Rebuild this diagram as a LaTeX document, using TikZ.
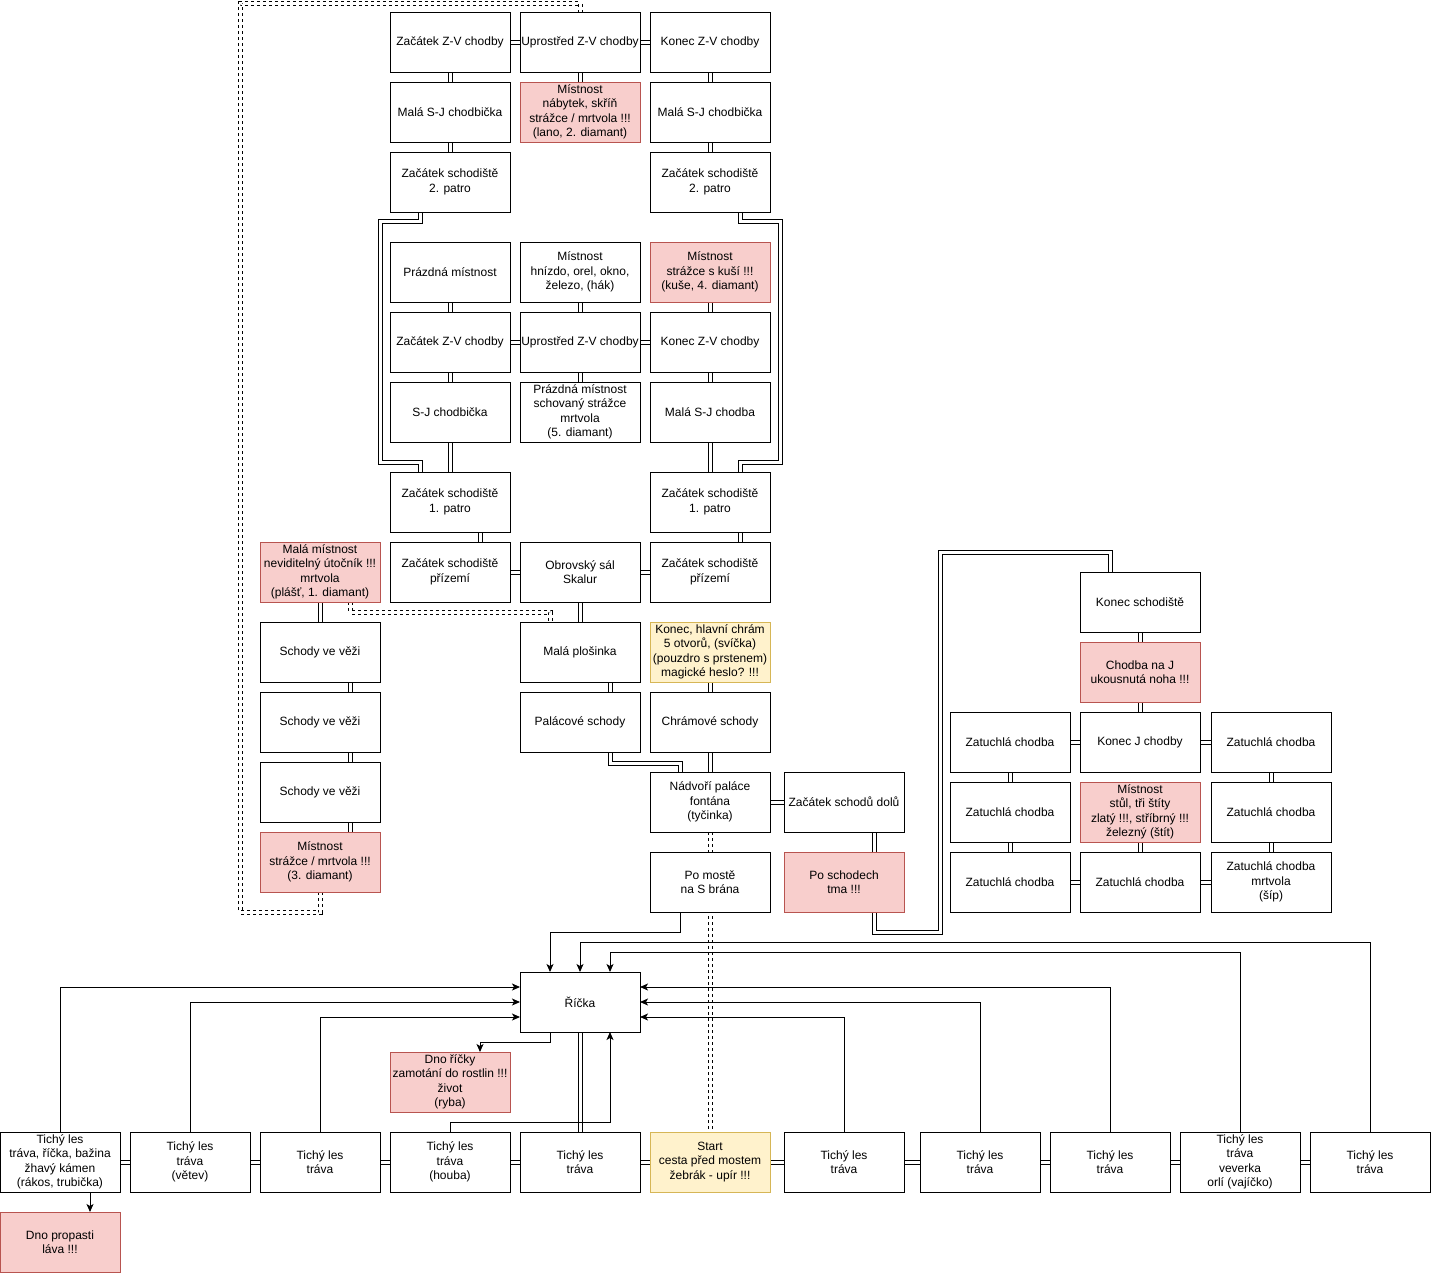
\documentclass[tikz,border=0pt]{standalone}
\usepackage{fontspec}
\setmainfont{Liberation Sans}
\usetikzlibrary{arrows.meta}
\definecolor{rfill}{HTML}{F8CECC}
\definecolor{rdraw}{HTML}{B85450}
\definecolor{yfill}{HTML}{FFF2CC}
\definecolor{ydraw}{HTML}{D6B656}
\pgfdeclarelayer{bg}
\pgfsetlayers{bg,main}
\begin{document}
\begin{tikzpicture}[x=1pt,y=-1pt,
  box/.style={draw, fill=white, line width=1pt, minimum width=120pt, minimum height=60pt,
    inner sep=0pt, outer sep=0pt, align=center, font=\fontsize{12}{14.4}\selectfont},
  redbox/.style={box, fill=rfill, draw=rdraw},
  yelbox/.style={box, fill=yfill, draw=ydraw},
  link/.style={draw, line width=1pt, double=white, double distance=3pt},
  dlink/.style={link, dash pattern=on 3pt off 3pt},
  arr/.style={draw, line width=1pt, -{Stealth[length=8pt,width=7pt,inset=2pt]}}
]
\useasboundingbox (0,0) rectangle (1432,1274);

% ---- upper building ----
\node[box] (a1) at (450,42) {Začátek Z-V chodby};
\node[box] (b1) at (580,42) {Uprostřed Z-V chodby};
\node[box] (c1) at (710,42) {Konec Z-V chodby};
\node[box] (a2) at (450,112) {Malá S-J chodbička};
\node[redbox] (b2) at (580,112) {Místnost\\nábytek, skříň\\strážce / mrtvola !!!\\(lano, 2. diamant)};
\node[box] (c2) at (710,112) {Malá S-J chodbička};
\node[box] (a3) at (450,182) {Začátek schodiště\\2. patro};
\node[box] (c3) at (710,182) {Začátek schodiště\\2. patro};
\node[box] (a4) at (450,272) {Prázdná místnost};
\node[box] (b4) at (580,272) {Místnost\\hnízdo, orel, okno,\\železo, (hák)};
\node[redbox] (c4) at (710,272) {Místnost\\strážce s kuší !!!\\(kuše, 4. diamant)};
\node[box] (a5) at (450,342) {Začátek Z-V chodby};
\node[box] (b5) at (580,342) {Uprostřed Z-V chodby};
\node[box] (c5) at (710,342) {Konec Z-V chodby};
\node[box] (a6) at (450,412) {S-J chodbička};
\node[box] (b6) at (580,412) {Prázdná místnost\\schovaný strážce\\mrtvola\\(5. diamant)};
\node[box] (c6) at (710,412) {Malá S-J chodba};
\node[box] (a7) at (450,502) {Začátek schodiště\\1. patro};
\node[box] (c7) at (710,502) {Začátek schodiště\\1. patro};
\node[redbox] (l8) at (320,572) {Malá místnost\\neviditelný útočník !!!\\mrtvola\\(plášť, 1. diamant)};
\node[box] (a8) at (450,572) {Začátek schodiště\\přízemí};
\node[box] (b8) at (580,572) {Obrovský sál\\Skalur};
\node[box] (c8) at (710,572) {Začátek schodiště\\přízemí};
\node[box] (l9) at (320,652) {Schody ve věži};
\node[box] (b9) at (580,652) {Malá plošinka};
\node[yelbox] (c9) at (710,652) {Konec, hlavní chrám\\5 otvorů, (svíčka)\\(pouzdro s prstenem)\\magické heslo? !!!};
\node[box] (l10) at (320,722) {Schody ve věži};
\node[box] (b10) at (580,722) {Palácové schody};
\node[box] (c10) at (710,722) {Chrámové schody};
\node[box] (l11) at (320,792) {Schody ve věži};
\node[redbox] (l12) at (320,862) {Místnost\\strážce / mrtvola !!!\\(3. diamant)};
\node[box] (nad) at (710,802) {Nádvoří paláce\\fontána\\(tyčinka)};
\node[box] (zsd) at (844,802) {Začátek schodů dolů};
\node[box] (most) at (710,882) {Po mostě\\na S brána};
\node[redbox] (tma) at (844,882) {Po schodech\\tma !!!};

% ---- right group ----
\node[box] (ks) at (1140,602) {Konec schodiště};
\node[redbox] (cj) at (1140,672) {Chodba na J\\ukousnutá noha !!!};
\node[box] (z11) at (1010,742) {Zatuchlá chodba};
\node[box] (kj) at (1140,742) {Konec J chodby};
\node[box] (z13) at (1271,742) {Zatuchlá chodba};
\node[box] (z21) at (1010,812) {Zatuchlá chodba};
\node[redbox] (ms) at (1140,812) {Místnost\\stůl, tři štíty\\zlatý !!!, stříbrný !!!\\železný (štít)};
\node[box] (z23) at (1271,812) {Zatuchlá chodba};
\node[box] (z31) at (1010,882) {Zatuchlá chodba};
\node[box] (z32) at (1140,882) {Zatuchlá chodba};
\node[box] (z33) at (1271,882) {Zatuchlá chodba\\mrtvola\\(šíp)};

% ---- forest ----
\node[box] (ricka) at (580,1002) {Říčka};
\node[redbox] (dno) at (450,1082) {Dno říčky\\zamotání do rostlin !!!\\život\\(ryba)};
\node[box] (t1) at (60,1162) {Tichý les\\tráva, říčka, bažina\\žhavý kámen\\(rákos, trubička)};
\node[box] (t2) at (190,1162) {Tichý les\\tráva\\(větev)};
\node[box] (t3) at (320,1162) {Tichý les\\tráva};
\node[box] (t4) at (450,1162) {Tichý les\\tráva\\(houba)};
\node[box] (t5) at (580,1162) {Tichý les\\tráva};
\node[yelbox] (start) at (710,1162) {Start\\cesta před mostem\\žebrák - upír !!!};
\node[box] (t6) at (844,1162) {Tichý les\\tráva};
\node[box] (t7) at (980,1162) {Tichý les\\tráva};
\node[box] (t8) at (1110,1162) {Tichý les\\tráva};
\node[box] (t9) at (1240,1162) {Tichý les\\tráva\\veverka\\orlí (vajíčko)};
\node[box] (t10) at (1370,1162) {Tichý les\\tráva};
\node[redbox] (lava) at (60,1242) {Dno propasti\\láva !!!};

\begin{pgfonlayer}{bg}
% upper building links
\path[link] (a1) -- (b1);
\path[link] (b1) -- (c1);
\path[link] (a1) -- (a2);
\path[link] (b1) -- (b2);
\path[link] (c1) -- (c2);
\path[link] (a2) -- (a3);
\path[link] (c2) -- (c3);
\path[link] ([xshift=-30pt]a3.south) -- (420,221) -- (380,221) -- (380,462) -- (420,462) -- ([xshift=-30pt]a7.north);
\path[link] ([xshift=30pt]c3.south) -- (740,221) -- (780,221) -- (780,462) -- (740,462) -- ([xshift=30pt]c7.north);
\path[link] (a4) -- (a5);
\path[link] (b4) -- (b5);
\path[link] (c4) -- (c5);
\path[link] (a5) -- (b5);
\path[link] (b5) -- (c5);
\path[link] (a5) -- (a6);
\path[link] (b5) -- (b6);
\path[link] (c5) -- (c6);
\path[link] (a6) -- (a7);
\path[link] (c6) -- (c7);
\path[link] ([xshift=30pt]a7.south) -- ([xshift=30pt]a8.north);
\path[link] ([xshift=30pt]c7.south) -- ([xshift=30pt]c8.north);
\path[link] (a8) -- (b8);
\path[link] (b8) -- (c8);
\path[link] (b8) -- (b9);
\path[link] ([xshift=30pt]b9.south) -- ([xshift=30pt]b10.north);
\path[link] (c9) -- (c10);
\path[link] ([xshift=30pt]b10.south) -- (610,763) -- (680,763) -- ([xshift=-30pt]nad.north);
\path[link] (c10) -- (nad);
\path[link] (nad) -- (zsd);
\path[link] ([xshift=30pt]zsd.south) -- ([xshift=30pt]tma.north);
\path[link] ([xshift=30pt]tma.south) -- (874,932) -- (940,932) -- (940,552) -- (1110,552) -- ([xshift=-30pt]ks.north);
\path[link] (l8) -- (l9);
\path[link] ([xshift=30pt]l9.south) -- ([xshift=30pt]l10.north);
\path[link] ([xshift=30pt]l10.south) -- ([xshift=30pt]l11.north);
\path[link] ([xshift=30pt]l11.south) -- ([xshift=30pt]l12.north);
\path[dlink] ([xshift=30pt]l8.south) -- (350,612) -- (550,612) -- ([xshift=-30pt]b9.north);
\path[dlink] (l12.south) -- (320,912) -- (240,912) -- (240,3) -- (580,3) -- (b1.north);
\path[dlink] (nad.south) -- (start.north);
% right group links
\path[link] (ks) -- (cj);
\path[link] (cj) -- (kj);
\path[link] (z11) -- (kj);
\path[link] (kj) -- (z13);
\path[link] (z11) -- (z21);
\path[link] (z21) -- (z31);
\path[link] (z13) -- (z23);
\path[link] (z23) -- (z33);
\path[link] (ms) -- (z32);
\path[link] (z31) -- (z32);
\path[link] (z32) -- (z33);
% forest links
\path[link] (t1) -- (t2);
\path[link] (t2) -- (t3);
\path[link] (t3) -- (t4);
\path[link] (t4) -- (t5);
\path[link] (t5) -- (start);
\path[link] (start) -- (t6);
\path[link] (t6) -- (t7);
\path[link] (t7) -- (t8);
\path[link] (t8) -- (t9);
\path[link] (t9) -- (t10);
\path[link] (t5) -- (ricka);
% arrows
\path[arr] (t1.north) |- ([yshift=15pt]ricka.west);
\path[arr] (t2.north) |- (ricka.west);
\path[arr] (t3.north) |- ([yshift=-15pt]ricka.west);
\path[arr] (t6.north) |- ([yshift=-15pt]ricka.east);
\path[arr] (t7.north) |- (ricka.east);
\path[arr] (t8.north) |- ([yshift=15pt]ricka.east);
\path[arr] (t9.north) |- (610,952) -- ([xshift=30pt]ricka.north);
\path[arr] (t10.north) |- (580,942) -- (ricka.north);
\path[arr] ([xshift=-30pt]most.south) -- (680,932) -- (550,932) -- ([xshift=-30pt]ricka.north);
\path[arr] (t4.north) -- (450,1122) -- (610,1122) -- ([xshift=30pt]ricka.south);
\path[arr] ([xshift=-30pt]ricka.south) -- (550,1042) -- (480,1042) -- ([xshift=30pt]dno.north);
\path[arr] ([xshift=30pt]t1.south) -- ([xshift=30pt]lava.north);
\end{pgfonlayer}
\end{tikzpicture}
\end{document}
